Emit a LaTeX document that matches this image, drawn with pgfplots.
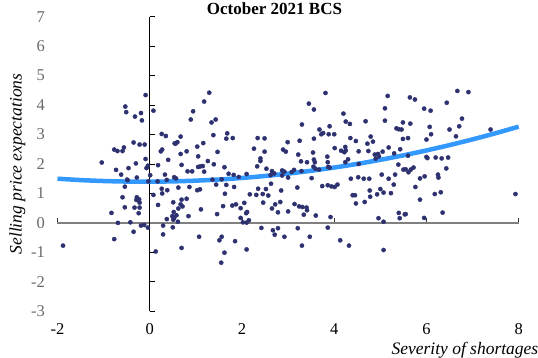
\documentclass[border=0pt]{standalone}
\usepackage{fontspec}
\setmainfont{Liberation Serif}
\usepackage{pgfplots}
\pgfplotsset{compat=1.18}
\definecolor{dot}{RGB}{46,49,112}
\definecolor{fitc}{RGB}{51,153,255}
\definecolor{ygray}{RGB}{105,105,105}
\definecolor{xline}{RGB}{128,128,128}

\pgfplotstableread{
x y
-0.09 4.34
-0.53 3.95
-0.51 3.76
-0.32 3.61
-0.19 3.73
-0.17 3.48
0.08 3.81
0.26 3.02
0.35 2.95
-0.35 2.73
-0.22 2.66
-0.11 2.66
-0.77 2.49
-0.70 2.44
-0.59 2.44
-0.56 2.56
0.24 2.43
0.27 2.49
0.54 2.70
-1.04 2.05
-0.30 2.02
-0.09 2.17
-0.04 1.94
-0.07 1.86
0.18 1.96
0.40 2.14
-0.73 1.80
-0.46 1.86
-0.62 1.64
-0.28 1.54
-0.49 1.47
0.01 1.62
0.33 1.64
0.53 1.55
-0.54 1.23
-0.59 0.87
-0.28 0.87
-0.23 0.80
-0.29 0.78
-0.22 0.69
-0.54 0.53
-0.33 0.52
-0.22 0.52
-0.24 0.33
-0.83 0.34
0.08 0.95
0.26 1.16
0.38 1.11
0.27 1.00
0.18 0.61
0.51 0.70
0.52 0.37
0.49 0.23
0.37 0.13
0.51 0.11
-0.69 0.00
-0.42 0.02
-0.19 -0.09
-0.12 -0.07
-0.04 -0.16
0.29 -0.09
0.50 -0.15
-0.35 -0.30
0.29 -0.39
-0.77 -0.55
-1.88 -0.77
0.13 -0.97
-0.48 1.45
-0.03 1.41
0.17 1.41
0.37 1.46
1.29 4.42
1.18 4.12
0.94 3.79
0.89 3.51
1.34 3.41
1.43 3.51
1.38 2.98
1.68 3.04
1.66 2.86
1.80 2.88
2.34 2.88
2.49 2.87
0.67 2.93
0.56 2.69
0.60 2.74
1.16 2.71
1.03 2.59
0.80 2.43
0.67 2.34
1.47 2.41
1.05 2.26
2.26 2.52
2.49 2.42
2.40 2.19
2.40 2.10
2.89 2.49
2.95 2.42
2.99 2.74
1.26 2.10
0.69 1.97
1.39 1.99
1.05 1.90
1.10 1.92
1.15 1.93
1.62 1.89
0.82 1.75
0.92 1.75
1.18 1.74
2.33 1.92
2.53 1.84
2.65 1.76
2.70 1.68
2.87 1.78
2.92 1.74
1.71 1.67
1.82 1.63
1.93 1.56
2.10 1.66
2.62 1.62
0.57 1.51
1.36 1.47
1.56 1.48
2.87 1.61
1.44 1.30
1.66 1.29
1.83 1.22
0.62 1.20
0.86 1.22
1.03 1.11
1.09 1.14
1.63 0.99
2.17 0.97
2.31 0.95
2.35 1.16
2.52 1.15
2.45 0.98
2.57 0.93
2.63 1.33
2.85 1.10
0.69 0.79
0.80 0.82
0.67 0.63
0.71 0.56
0.62 0.49
0.58 0.26
0.53 0.17
0.61 0.04
0.84 0.23
1.11 0.46
1.46 0.30
1.59 0.57
1.79 0.59
1.87 0.63
1.97 0.50
2.05 0.68
2.11 0.37
2.09 0.33
1.97 0.17
2.02 0.02
2.10 0.01
2.15 0.09
2.46 0.69
2.65 0.49
2.72 0.63
2.83 0.71
2.78 0.36
3.00 0.39
1.07 -0.47
1.56 -0.47
1.51 -0.59
1.85 -0.62
0.69 -0.85
2.10 -0.90
1.62 -1.01
1.55 -1.35
2.42 -0.17
2.67 -0.25
2.71 -0.40
2.78 -0.18
2.92 -0.47
3.81 4.41
3.45 4.05
3.56 3.85
4.20 3.71
4.25 3.44
4.34 3.36
4.68 3.45
5.16 4.31
5.10 3.89
5.10 3.47
5.49 3.41
3.30 3.34
3.90 3.28
3.68 3.17
3.76 3.05
3.72 3.01
3.88 3.01
4.00 3.01
3.25 2.79
3.56 2.86
4.35 2.88
4.47 2.78
4.79 2.93
4.84 2.76
4.72 2.69
5.35 3.21
5.40 3.18
5.46 3.17
5.49 2.85
4.01 2.54
4.15 2.45
4.22 2.40
4.24 2.58
4.25 2.46
4.53 2.43
4.74 2.44
5.05 2.42
5.18 2.56
5.30 2.36
5.43 2.50
3.22 2.32
3.54 2.39
3.85 2.25
4.30 2.16
4.24 2.06
4.88 2.32
4.90 2.18
4.95 2.34
4.97 2.26
3.28 2.09
3.41 2.06
3.56 2.15
3.58 2.06
3.55 1.91
3.59 1.84
3.67 1.81
3.86 2.06
3.87 1.90
3.90 1.88
3.13 1.80
3.29 1.76
3.08 1.73
4.53 2.00
5.39 1.98
5.50 1.81
5.32 1.64
5.03 1.64
4.36 1.50
4.52 1.55
4.64 1.50
4.76 1.50
5.18 1.50
3.00 1.54
3.51 1.52
3.20 1.20
3.74 1.25
3.86 1.28
3.94 1.24
4.01 1.22
4.07 1.30
4.77 1.10
5.00 1.15
5.07 1.03
5.29 1.30
4.93 0.97
5.23 1.01
4.40 0.94
4.45 0.94
4.78 0.89
4.47 0.66
4.66 0.71
3.14 0.64
3.24 0.56
3.31 0.54
3.40 0.52
3.41 0.43
3.34 0.28
3.60 0.25
3.92 0.20
4.96 0.16
5.07 0.04
5.40 0.34
5.42 0.16
5.53 0.29
3.21 -0.18
3.86 -0.16
3.47 -0.47
3.30 -0.77
4.13 -0.59
4.32 -0.77
5.07 -0.92
6.67 4.48
6.91 4.44
5.64 4.26
5.75 4.19
6.44 4.08
5.95 3.88
6.09 3.81
6.77 3.54
5.65 3.37
6.71 3.28
6.07 3.26
6.50 3.17
7.39 3.17
6.10 3.01
6.64 2.94
5.60 2.88
6.00 2.83
5.60 2.28
6.00 2.24
6.02 2.20
6.20 2.22
6.33 2.19
6.47 2.22
6.43 1.85
5.55 1.82
5.66 1.81
5.72 1.88
5.61 1.72
5.86 1.51
5.96 1.58
6.25 1.64
6.26 1.54
5.76 1.22
6.18 0.98
6.31 1.04
5.86 0.79
7.93 0.98
5.55 0.30
6.35 0.35
5.95 0.17
}\pts

\begin{document}
\begin{tikzpicture}
\path[use as bounding box] (-57.5pt,-46.7pt) rectangle (480.5pt,311.3pt);
% axis lines crossing at the origin
\begin{axis}[
  scale only axis, width=461.2pt, height=294.6pt,
  xmin=-2, xmax=8, ymin=-3, ymax=7,
  axis lines=middle,
  xtick={-2,0,2,4,6,8}, ytick={-3,-2,-1,0,1,2,3,4,5,6,7},
  xticklabels={}, yticklabels={},
  x axis line style={-, draw=xline, line width=1.6pt},
  y axis line style={-, draw=black, line width=0.9pt},
  xtick align=inside, ytick align=inside,
  x tick style={draw=black!80, line width=0.8pt},
  y tick style={draw=black, line width=0.8pt},
  major tick length=5pt,
]
\end{axis}
% data, tick labels, title and labels
\begin{axis}[
  scale only axis, width=461.2pt, height=294.6pt,
  xmin=-2, xmax=8, ymin=-3, ymax=7,
  axis line style={draw=none},
  tick style={draw=none}, major tick length=0pt,
  xtick={-2,0,2,4,6,8}, ytick={-3,-2,-1,0,1,2,3,4,5,6,7},
  xticklabels={-2,0,2,4,6,8},
  yticklabels={-3,-2,-1,0,1,2,3,4,5,6,7},
  xticklabel style={font=\fontsize{16.5}{18}\selectfont, text=black, yshift=-9pt},
  yticklabel style={font=\fontsize{16.5}{18}\selectfont, text=ygray, xshift=-9pt},
  ylabel={Selling price expectations},
  ylabel style={at={(axis description cs:-0.0867,0.5)}, anchor=center,
    font=\itshape\fontsize{17.5}{20}\selectfont},
  xlabel={Severity of shortages},
  xlabel style={at={(axis description cs:0.7166,-0.1473)}, anchor=base west,
    font=\itshape\fontsize{17.5}{20}\selectfont},
  clip=false,
]
\addplot[only marks, mark=*, mark size=2.1pt, color=dot, mark options={draw=dot, fill=dot}] table[x=x, y=y] {\pts};
\addplot[fitc, line width=4.5pt, smooth] coordinates {
(-2,1.501) (-1.5,1.454) (-1,1.422) (-0.5,1.404) (0,1.400) (0.5,1.410)
(1,1.435) (1.5,1.473) (2,1.526) (2.5,1.593) (3,1.675) (3.5,1.770)
(4,1.880) (4.5,2.003) (5,2.142) (5.5,2.294) (6,2.460) (6.5,2.641)
(7,2.836) (7.5,3.045) (8,3.268)
};
\node[anchor=base, inner sep=0pt, font=\bfseries\fontsize{17}{20}\selectfont]
  at (axis description cs:0.4705,1.0058) {October 2021 BCS};
\end{axis}
\end{tikzpicture}
\end{document}
